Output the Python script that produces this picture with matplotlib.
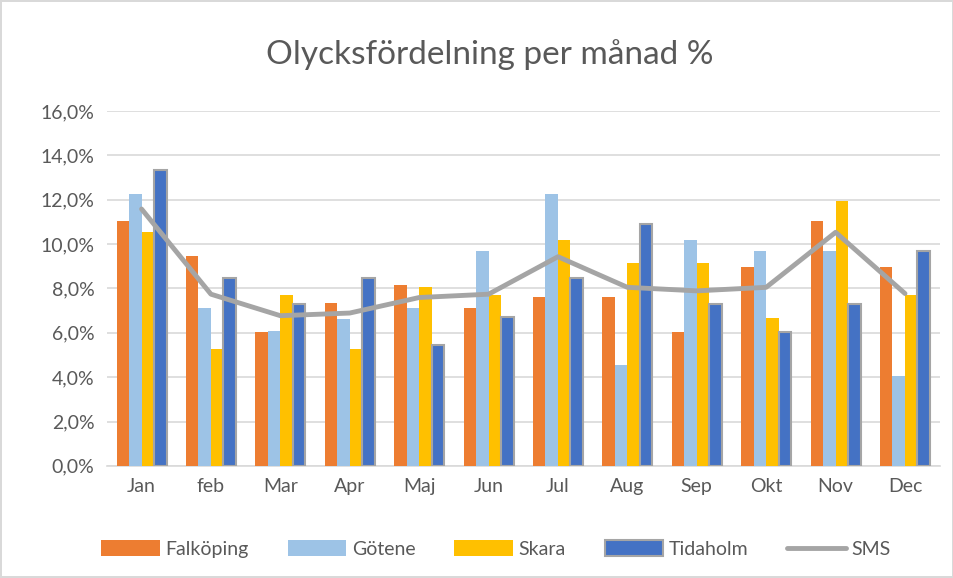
import matplotlib
matplotlib.use('Agg')
import matplotlib.pyplot as plt
import numpy as np
from matplotlib.ticker import FuncFormatter

months = ['Jan', 'feb', 'Mar', 'Apr', 'Maj', 'Jun', 'Jul', 'Aug', 'Sep', 'Okt', 'Nov', 'Dec']
falkoping = [11.05, 9.47, 6.03, 7.35, 8.15, 7.10, 7.62, 7.62, 6.03, 8.95, 11.05, 8.95]
gotene = [12.26, 7.13, 6.09, 6.62, 7.13, 9.70, 12.26, 4.57, 10.20, 9.70, 9.70, 4.05]
skara = [10.56, 5.25, 7.71, 5.25, 8.08, 7.71, 10.18, 9.13, 9.13, 6.66, 11.95, 7.71]
tidaholm = [13.35, 8.48, 7.28, 8.48, 5.44, 6.69, 8.48, 10.90, 7.28, 6.05, 7.28, 9.70]
sms = [11.58, 7.74, 6.77, 6.89, 7.59, 7.74, 9.43, 8.05, 7.89, 8.05, 10.53, 7.77]

plt.rcParams['font.family'] = ['Lato', 'DejaVu Sans']

fig = plt.figure(figsize=(9.54, 5.78), dpi=100)
fig.patch.set_edgecolor('#D9D9D9')
fig.patch.set_linewidth(1.5)
ax = fig.add_axes([0.112, 0.194, 0.873, 0.614])

x = np.arange(len(months))
w = 0.18
series = [
    ('Falköping', falkoping, '#ED7D31', 'none'),
    ('Götene', gotene, '#9DC3E6', 'none'),
    ('Skara', skara, '#FFC000', 'none'),
    ('Tidaholm', tidaholm, '#4472C4', '#A5A5A5'),
]
handles = []
for i, (name, vals, col, ec) in enumerate(series):
    b = ax.bar(x + (i - 1.5) * w, vals, w, color=col, label=name,
               edgecolor=ec, linewidth=1.5 if ec != 'none' else 0, zorder=3)
    handles.append(b)

line, = ax.plot(x, sms, color='#A5A5A5', linewidth=3.5, label='SMS', zorder=4,
                solid_capstyle='round', solid_joinstyle='round')
handles.append(line)

ax.set_ylim(0, 16)
ax.set_xlim(-0.5, len(months) - 0.5)
ax.set_yticks(np.arange(0, 17, 2))
ax.yaxis.set_major_formatter(FuncFormatter(lambda v, p: '{:.1f}%'.format(v).replace('.', ',')))
ax.set_xticks(x)
ax.set_xticklabels(months)
ax.tick_params(axis='both', length=0, labelsize=14, colors='#595959', pad=9)
ax.grid(axis='y', color='#D9D9D9', linewidth=1.2, zorder=0)
for s in ['top', 'right', 'left']:
    ax.spines[s].set_visible(False)
ax.spines['bottom'].set_color('#D9D9D9')
ax.spines['bottom'].set_linewidth(1.2)

fig.text(0.513, 0.905, 'Olycksfördelning per månad %', ha='center', va='center',
         fontsize=24, color='#595959')

fig.legend(handles=handles, labels=[h.get_label() for h in handles],
           loc='center', bbox_to_anchor=(0.52, 0.05), ncol=5, frameon=False,
           fontsize=14, labelcolor='#595959', handlelength=3.0, handleheight=0.9,
           columnspacing=2.0, handletextpad=0.3)

fig.savefig('out.png', dpi=100)
